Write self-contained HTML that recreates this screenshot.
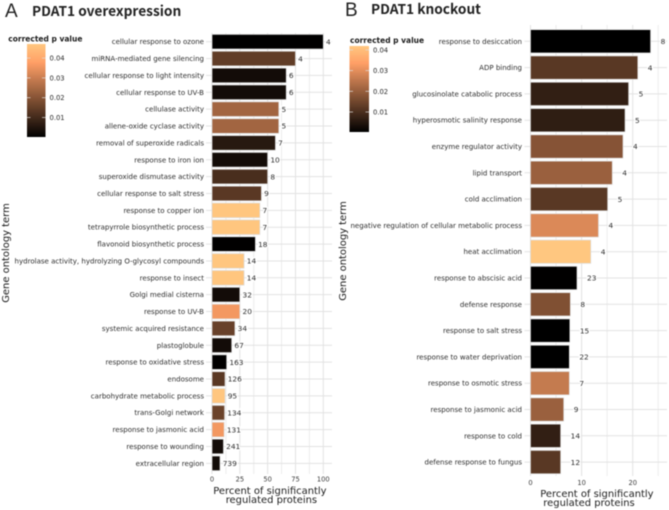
<!DOCTYPE html>
<html>
<head>
<meta charset="utf-8">
<title>PDAT1 gene ontology charts</title>
<style>
html,body{margin:0;padding:0;background:#fff;width:669px;height:510px;overflow:hidden}
svg{display:block;filter:blur(0.4px)}
text{font-family:"DejaVu Sans","Liberation Sans",sans-serif;fill:#333}
.cat{font-size:7.02px;fill:#2c2c2c;text-anchor:end}
.val{font-size:7.4px;fill:#2c2c2c;paint-order:stroke;stroke:#fff;stroke-width:2.5px}
.tick{font-size:6.7px;fill:#3a3a3a;text-anchor:middle}
.axis{font-size:9.95px;fill:#1c1c1c}
.leg{font-size:6.8px;fill:#2c2c2c}
.legt{font-size:7.5px;font-weight:bold;fill:#1c1c1c}
.title{font-family:"Noto Sans CJK JP","Liberation Sans",sans-serif;font-weight:700;font-size:13.7px;fill:#222}
.panel{font-family:"Liberation Sans",sans-serif;font-size:19px;fill:#222}
</style>
</head>
<body>
<svg id="root" xmlns="http://www.w3.org/2000/svg" width="669" height="510" viewBox="0 0 669 510">
<text class="panel" x="5" y="17">A</text>
<text class="title" x="32" y="16">PDAT1 overexpression</text>
<text class="panel" x="345" y="16">B</text>
<text class="title" x="371" y="14">PDAT1 knockout</text>
</svg>
<script>
const categoriesA = ["cellular response to ozone","miRNA-mediated gene silencing","cellular response to light intensity","cellular response to UV-B","cellulase activity","allene-oxide cyclase activity","removal of superoxide radicals","response to iron ion","superoxide dismutase activity","cellular response to salt stress","response to copper ion","tetrapyrrole biosynthetic process","flavonoid biosynthetic process","hydrolase activity, hydrolyzing O-glycosyl compounds","response to insect","Golgi medial cisterna","response to UV-B","systemic acquired resistance","plastoglobule","response to oxidative stress","endosome","carbohydrate metabolic process","trans-Golgi network","response to jasmonic acid","response to wounding","extracellular region"];
const percentA = [100,75,66.7,66.7,60,60,57,50,50,44.4,43,43,39,28.8,28.8,25,25,20.6,17.7,13.2,11.7,11.7,11.3,10.9,10.3,7.2];
const countsA = [4,4,6,6,5,5,7,10,8,9,7,7,18,14,14,32,20,34,67,163,126,95,134,131,241,739];
const pValuesA = [0.0003,0.0145,0.003,0.003,0.024,0.024,0.006,0.003,0.011,0.0135,0.047,0.047,0.0003,0.047,0.047,0.003,0.036,0.0155,0.003,0.0003,0.0135,0.047,0.016,0.036,0.003,0.003];
const xTicksA = [0,25,50,75,100];
const xMinorA = [12.5,37.5,62.5,87.5];

const categoriesB = ["response to desiccation","ADP binding","glucosinolate catabolic process","hyperosmotic salinity response","enzyme regulator activity","lipid transport","cold acclimation","negative regulation of cellular metabolic process","heat acclimation","response to abscisic acid","defense response","response to salt stress","response to water deprivation","response to osmotic stress","response to jasmonic acid","response to cold","defense response to fungus"];
const percentB = [23.5,21,19.2,18.5,18.1,16,15.1,13.3,11.8,9.1,7.8,7.7,7.6,7.6,6.5,5.9,5.9];
const countsB = [8,4,5,5,4,4,5,4,4,23,8,15,22,7,9,14,12];
const pValuesB = [0.0003,0.012,0.0068,0.0065,0.0178,0.0205,0.012,0.029,0.042,0.0004,0.017,0.0003,0.0003,0.026,0.0205,0.0068,0.012];
const xTicksB = [0,10,20];
const xMinorB = [5,15,25];

const legendTicks = [0.01,0.02,0.03,0.04];

const SVGNS = "http://www.w3.org/2000/svg";
const root = document.getElementById("root");
function make(tag, attrs, parent, txt){
  const e = document.createElementNS(SVGNS, tag);
  for (const k in attrs) e.setAttribute(k, attrs[k]);
  if (txt !== undefined) e.textContent = txt;
  (parent || root).appendChild(e);
  return e;
}
function copper(t){
  t = Math.max(0, Math.min(1, t));
  const r = Math.min(255, Math.round(255 * 1.25 * t));
  const g = Math.round(255 * 0.78 * t);
  const b = Math.round(255 * 0.5 * t);
  return "rgb(" + r + "," + g + "," + b + ")";
}
let gradCounter = 0;
function drawPanel(cfg){
  const xScale = v => cfg.x0 + v * cfg.pxPerUnit;
  const yScale = i => cfg.yFirst + i * cfg.rowStep;
  const colorOf = p => copper((p - cfg.pMin) / (cfg.pMax - cfg.pMin));
  const g = make("g", {});
  
  

  cfg.minor.forEach(v => {
    const l = make("line", {x1:xScale(v), x2:xScale(v), y1:cfg.top, y2:cfg.bottom, stroke:"#eaeaea", "stroke-width":0.9}, g);
    
    
  });
  cfg.ticks.forEach(v => {
    const l = make("line", {x1:xScale(v), x2:xScale(v), y1:cfg.top, y2:cfg.bottom, stroke:"#e2e2e2", "stroke-width":1}, g);
    
    
    const t = make("text", {class:"tick", x:xScale(v), y:cfg.tickY}, g, String(v));
    
    
  });
  cfg.cats.forEach((c, i) => {
    const y = yScale(i);
    const gl = make("line", {x1:cfg.x0 - 6, x2:cfg.right, y1:y, y2:y, stroke:"#e2e2e2", "stroke-width":1}, g);
    
    
    const bar = make("rect", {x:cfg.x0, y:y - cfg.barH / 2, width:cfg.vals[i] * cfg.pxPerUnit, height:cfg.barH, fill:colorOf(cfg.ps[i]), stroke:"#dcdcdc", "stroke-width":0.7}, g);
    
    
    const lab = make("text", {class:"cat", x:cfg.labelX, y:y + 2.5}, g, c);
    
    
    const val = make("text", {class:"val", x:xScale(cfg.vals[i]) + cfg.valGap, y:y + 2.7}, g, String(cfg.counts[i]));
    
    
  });
  const yt = make("text", {class:"axis", x:0, y:0, "text-anchor":"middle", transform:"translate(" + cfg.yTitleX + "," + cfg.yTitleY + ") rotate(-90)"}, g, "Gene ontology term");
  
  
  const xt1 = make("text", {class:"axis", x:cfg.xt1X, y:cfg.xtY}, g, "Percent of significantly");
  
  
  const xt2 = make("text", {class:"axis", x:cfg.xt2X, y:cfg.xtY + 8.8}, g, "regulated proteins");
  
  

  const gradId = "grad" + (gradCounter++);
  const defs = make("defs", {}, g);
  const grad = make("linearGradient", {id:gradId, x1:0, y1:1, x2:0, y2:0}, defs);
  [0, 0.2, 0.4, 0.6, 0.8, 1].forEach(s => {
    make("stop", {offset:s, "stop-color":copper(s)}, grad);
  });
  const legY = p => cfg.legAnchorY - (p - 0.01) * cfg.legPerUnit;
  const lt = make("text", {class:"legt", x:cfg.legTitleX, y:cfg.legTitleY}, g, "corrected p value");
  
  
  const cb = make("rect", {x:cfg.legX, y:cfg.legTop, width:cfg.legW, height:cfg.legBottom - cfg.legTop, fill:"url(#" + gradId + ")"}, g);
  
  
  legendTicks.forEach(p => {
    const y = legY(p);
    const a = make("line", {x1:cfg.legX, x2:cfg.legX + 3.5, y1:y, y2:y, stroke:"#ddd", "stroke-width":0.7}, g);
    
    
    const b = make("line", {x1:cfg.legX + cfg.legW - 3.5, x2:cfg.legX + cfg.legW, y1:y, y2:y, stroke:"#ddd", "stroke-width":0.7}, g);
    
    
    const t = make("text", {class:"leg", x:cfg.legX + cfg.legW + 4, y:y + 2.5}, g, p.toFixed(2));
    
    
  });
}
drawPanel({id:"overexpression", cats:categoriesA, vals:percentA, counts:countsA, ps:pValuesA, ticks:xTicksA, minor:xMinorA,
  x0:212, pxPerUnit:1.113, yFirst:41.7, rowStep:16.865, barH:14.6, top:33, bottom:474, right:332, labelX:204, valGap:2.7, tickY:481.7,
  pMin:0.0002, pMax:0.0471, yTitleX:9, yTitleY:253, xt1X:213.3, xt2X:225.7, xtY:494,
  legX:27, legW:18.5, legTop:44, legBottom:137, legAnchorY:117.5, legPerUnit:1980, legTitleX:8.3, legTitleY:41.5});
drawPanel({id:"knockout", cats:categoriesB, vals:percentB, counts:countsB, ps:pValuesB, ticks:xTicksB, minor:xMinorB,
  x0:530.5, pxPerUnit:5.11, yFirst:41.3, rowStep:26.3, barH:23.3, top:25, bottom:476, right:667, labelX:522, valGap:10, tickY:485,
  pMin:0.0003, pMax:0.042, yTitleX:346, yTitleY:251, xt1X:540.3, xt2X:543.3, xtY:497,
  legX:349.5, legW:19.5, legTop:46, legBottom:132, legAnchorY:112, legPerUnit:2070, legTitleX:350, legTitleY:43});
</script>
</body>
</html>
